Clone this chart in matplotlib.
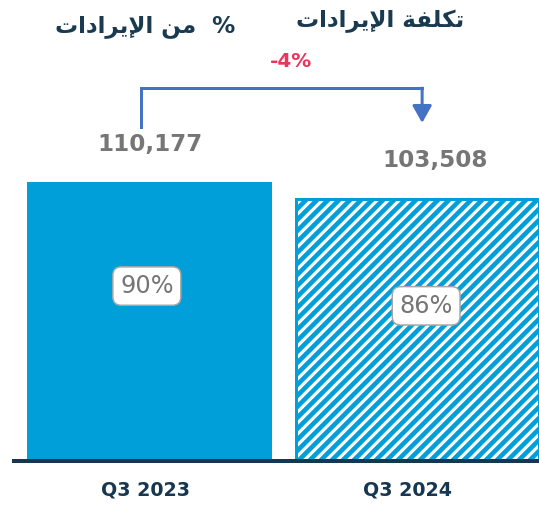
import matplotlib
matplotlib.use('Agg')
import matplotlib.pyplot as plt

# data
categories = ['Q3 2023', 'Q3 2024']
cost_values = [110177, 103508]
cost_labels = ['110,177', '103,508']
pct_of_revenue = ['90%', '86%']
change_label = '-4%'

# Arabic titles, pre-shaped (presentation forms) in visual order
title_right = '\uFE95\uFE8D\uFEA9\uFE8D\uFEAE\uFEF3\uFEF9\uFE8D \uFE94\uFED4\uFEE0\uFEDC\uFE97'
title_left = '\uFE95\uFE8D\uFEA9\uFE8D\uFEAE\uFEF3\uFEF9\uFE8D \uFEE6\uFEE3  %'

DPI = 66


def pt(px):
    return px * 72 / DPI


blue = '#009FD9'
navy = '#17364F'
grey = '#767676'

plt.rcParams['hatch.linewidth'] = pt(4.6)

fig = plt.figure(figsize=(539 / DPI, 509 / DPI), dpi=DPI)
ax = fig.add_axes([14 / 539, 48 / 509, 525 / 539, 461 / 509])

x = [0, 1]
ax.bar(x[0], cost_values[0], width=0.914, color=blue, linewidth=0, zorder=2)
ax.bar(x[1], cost_values[1], width=0.905, facecolor='white', edgecolor=blue,
       hatch='//', linewidth=pt(3), zorder=2)

ax.set_xlim(-0.5056, 1.453)
ax.set_ylim(0, 182046)

for s in ['top', 'right', 'left']:
    ax.spines[s].set_visible(False)
ax.spines['bottom'].set_color(navy)
ax.spines['bottom'].set_linewidth(pt(4))
ax.set_yticks([])
ax.set_xticks([])

# category labels
cat_x = [-0.015, 0.964]
for cx, c in zip(cat_x, categories):
    ax.text(cx, -11500, c, ha='center', va='center', fontsize=pt(19),
            fontweight='bold', color=navy, clip_on=False)

# value labels above bars
val_dx = [0.002, 0.065]
for i, (v, lab) in enumerate(zip(cost_values, cost_labels)):
    ax.text(x[i] + val_dx[i], v + 15000, lab, ha='center', va='center',
            fontsize=pt(23), fontweight='bold', color=grey, zorder=5)

# percent of revenue boxes
pct_y = [0.627, 0.592]
pct_dx = [-0.01, 0.032]
for i, (v, lab) in enumerate(zip(cost_values, pct_of_revenue)):
    ax.text(x[i] + pct_dx[i], v * pct_y[i], lab, ha='center', va='center',
            fontsize=pt(24), family=['Liberation Sans Narrow', 'DejaVu Sans'],
            color=grey, zorder=6,
            bbox=dict(boxstyle='round,pad=0.3,rounding_size=0.35', fc='white',
                      ec='#A6A6A6', lw=pt(1.5)))

# change bracket
arrow_c = '#4472C4'
bx0, bx1 = x[0] - 0.032, x[1] + 0.017
y_low = cost_values[0] + 21700
y_top = cost_values[0] + 37100
y_tip = cost_values[1] + 30000
ax.plot([bx0, bx0, bx1], [y_low, y_top, y_top], color=arrow_c, lw=pt(3),
        solid_joinstyle='miter', zorder=4)
ax.annotate('', xy=(bx1, y_tip), xytext=(bx1, y_top),
            arrowprops=dict(arrowstyle='-|>,head_length=0.8,head_width=0.45',
                            color=arrow_c, lw=pt(3), shrinkA=0, shrinkB=0,
                            mutation_scale=pt(18)), zorder=4)
ax.text((bx0 + bx1) / 2 + 0.035, y_top + 10300, change_label, ha='center',
        va='center', fontsize=pt(20), fontweight='bold', color='#E8365D')

# titles
fig.text(380 / 539, 1 - 27 / 509, title_right, ha='center', va='baseline',
         fontsize=pt(23), fontweight='bold', color='#1A3A50',
         family='DejaVu Sans')
fig.text(145 / 539, 1 - 32 / 509, title_left, ha='center', va='baseline',
         fontsize=pt(23), fontweight='bold', color='#1A3A50',
         family='DejaVu Sans')

fig.savefig('out.png', dpi=DPI)
